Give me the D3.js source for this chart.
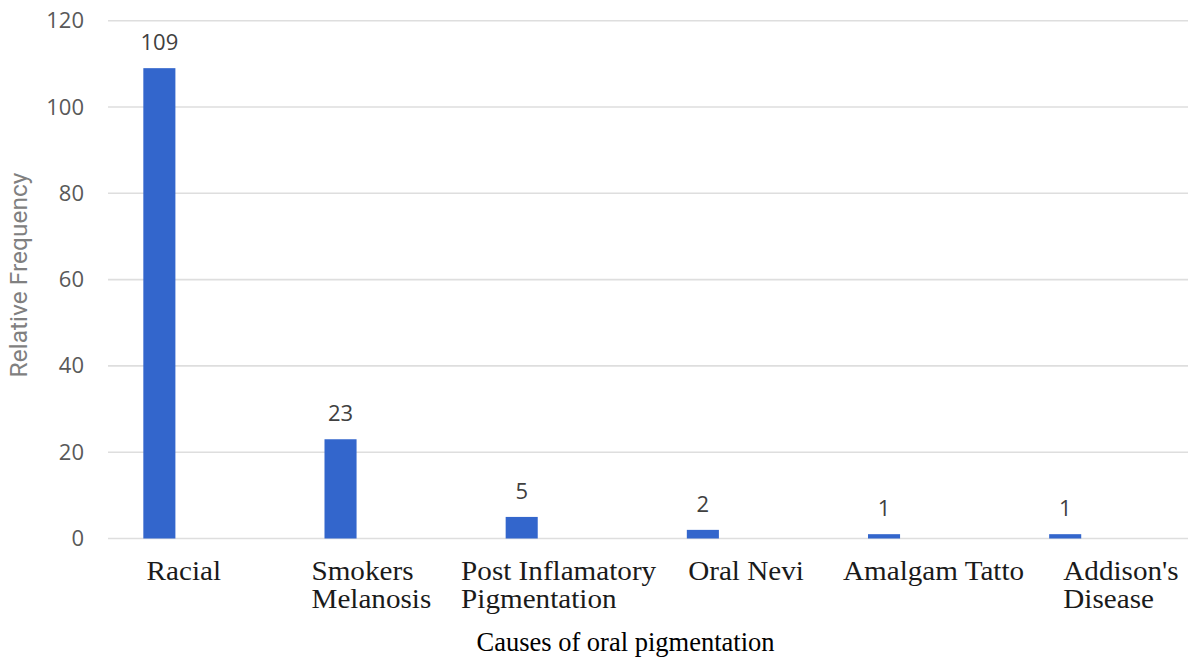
<!DOCTYPE html>
<html>
<head>
<meta charset="utf-8">
<script src="https://cdn.jsdelivr.net/npm/d3@7"></script>
<style>
  html, body { margin: 0; padding: 0; background: #fff; }
  svg { display: block; }
</style>
</head>
<body>
<svg id="chart" width="1188" height="659"></svg>
<script>
// Causes of oral pigmentation and how often each was seen
const categories = ["Racial", "Smokers Melanosis", "Post Inflamatory Pigmentation", "Oral Nevi", "Amalgam Tatto", "Addison's Disease"];
const labelLines = [["Racial"], ["Smokers", "Melanosis"], ["Post Inflamatory", "Pigmentation"], ["Oral Nevi"], ["Amalgam Tatto"], ["Addison's", "Disease"]];
const frequencies = [109, 23, 5, 2, 1, 1];
const yTicks = [0, 20, 40, 60, 80, 100, 120];
const yTitle = "Relative Frequency";
const xTitle = "Causes of oral pigmentation";

const W = 1188, H = 659;
const plot = { left: 108, right: 1195, top: 20.7, bottom: 538.5 };

const svg = d3.select("#chart");

const x = d3.scaleBand().domain(categories).range([plot.left, plot.right]).padding(0);
const y = d3.scaleLinear().domain([0, 120]).range([plot.bottom, plot.top]);
const labelX = d3.scalePoint().domain(categories).range([184, 1121]);

const barOffset = x.bandwidth() * 0.195;
const barWidth = x.bandwidth() * 0.177;

// horizontal gridlines
svg.append("g")
  .selectAll("line")
  .data(yTicks)
  .join("line")
  .attr("x1", plot.left)
  .attr("x2", W)
  .attr("y1", d => y(d))
  .attr("y2", d => y(d))
  .attr("stroke", "#dedede")
  .attr("stroke-width", 1.6);

// y tick labels
const yAxis = d3.axisLeft(y).tickValues(yTicks).tickSize(0).tickPadding(0);
const yg = svg.append("g")
  .attr("transform", `translate(84,0)`)
  .call(yAxis);
yg.select(".domain").remove();
yg.selectAll("text")
  .attr("font-family", "'Open Sans', sans-serif")
  .attr("font-size", 22)
  .attr("fill", "#595959");

// bars
svg.append("g")
  .selectAll("rect")
  .data(categories)
  .join("rect")
  .attr("x", d => x(d) + barOffset)
  .attr("width", barWidth)
  .attr("y", (d, i) => y(frequencies[i]))
  .attr("height", (d, i) => y(0) - y(frequencies[i]))
  .attr("fill", "#3366cc");

// value labels above the bars
svg.append("g")
  .selectAll("text")
  .data(categories)
  .join("text")
  .attr("x", d => x(d) + barOffset + barWidth / 2)
  .attr("y", (d, i) => y(frequencies[i]) - 18)
  .attr("text-anchor", "middle")
  .attr("font-family", "'Open Sans', sans-serif")
  .attr("font-size", 22)
  .attr("fill", "#404040")
  .text((d, i) => frequencies[i]);

// category labels: left-aligned blocks centred under each slot, set slightly wide
const stretch = 1.06;
const catGroups = svg.append("g")
  .selectAll("g")
  .data(categories)
  .join("g");

catGroups.each(function (d, i) {
  const g = d3.select(this);
  const t = g.append("text")
    .attr("font-family", "'Liberation Serif', 'Times New Roman', serif")
    .attr("font-size", 27.5)
    .attr("fill", "#1a1a1a");
  labelLines[i].forEach((line, k) => {
    t.append("tspan")
      .attr("x", 0)
      .attr("y", 580 + k * 28)
      .text(line);
  });
  const w = t.node().getBBox().width * stretch;
  g.attr("transform", `translate(${labelX(d) - w / 2},0) scale(${stretch},1)`);
});

// axis titles
svg.append("text")
  .attr("x", 625.5)
  .attr("y", 651)
  .attr("text-anchor", "middle")
  .attr("font-family", "'Liberation Serif', 'Times New Roman', serif")
  .attr("font-size", 26.5)
  .attr("fill", "#000")
  .text(xTitle);

svg.append("text")
  .attr("transform", `translate(27,${(172 + 378) / 2}) rotate(-90)`)
  .attr("text-anchor", "middle")
  .attr("font-family", "Roboto, sans-serif")
  .attr("font-size", 24.5)
  .attr("fill", "#808080")
  .text(yTitle);
</script>
</body>
</html>
